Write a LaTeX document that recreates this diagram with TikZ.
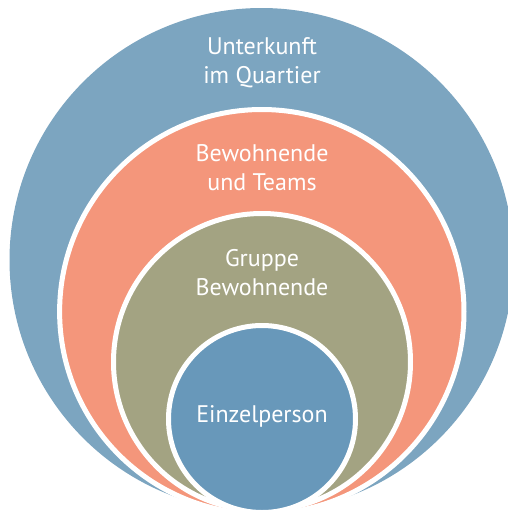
\documentclass[tikz,border=0pt]{standalone}
\usepackage{fontspec}
\setmainfont{PT Sans}
\usepackage{tikz}
\usetikzlibrary{positioning}
\definecolor{quartierblue}{RGB}{124,165,192}
\definecolor{teamsalmon}{RGB}{244,150,123}
\definecolor{gruppeolive}{RGB}{163,163,130}
\definecolor{personblue}{RGB}{104,152,186}

\begin{document}
\begin{tikzpicture}
[x=0.5pt,y=-0.5pt,
ring/.style={shape=circle,draw=white,line width=2.5pt,inner sep=0pt},
ringtext/.style={text=white,align=center,font=\fontsize{12}{14.5}\selectfont}]
\useasboundingbox (0,0) rectangle (508,510);
\clip (0,0) rectangle (508,510);

% circles, outer to inner
\node (quartier) [ring,draw=none,fill=quartierblue,minimum size=252pt] at (261.5,260) {};
\node (teams) [ring,fill=teamsalmon,minimum size=202.2pt] at (261.8,311.7) {};
\node (gruppe) [ring,fill=gruppeolive,minimum size=148.5pt] at (262,362) {};
\node (person) [ring,fill=personblue,minimum size=93.5pt] at (262,419) {};

% labels
\node (tquartier) [ringtext] at (262,63) {Unterkunft\\im Quartier};
\node (tteams) [ringtext] at (262,168) {Bewohnende\\und Teams};
\node (tgruppe) [ringtext] at (262,273) {Gruppe\\Bewohnende};
\node (tperson) [ringtext] at (262,416) {Einzelperson};
\end{tikzpicture}
\end{document}
